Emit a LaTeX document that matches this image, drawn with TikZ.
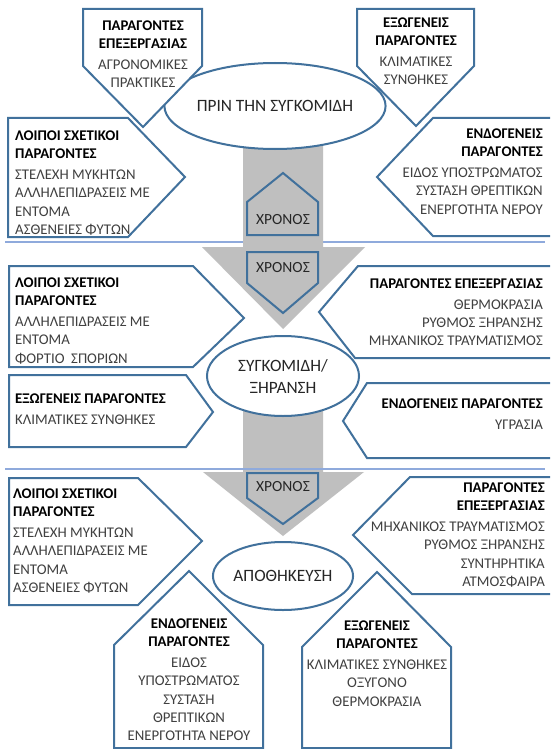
\documentclass[tikz,border=0pt]{standalone}
\usepackage{fontspec}
\setmainfont{Carlito}
\usetikzlibrary{shapes.geometric}
\definecolor{bdr}{HTML}{41719C}
\definecolor{sepline}{HTML}{8FAADC}
\definecolor{arrgray}{HTML}{BFBFBF}
\definecolor{itm}{HTML}{404040}
\newcommand{\hdg}[1]{{\color{black}\bfseries #1}}
\tikzset{
  box/.style={draw=bdr, line width=2pt, fill=white, line join=miter},
  timebox/.style={draw=bdr, line width=2pt, fill=arrgray, line join=miter},
  grayarrow/.style={fill=arrgray, draw=none},
  sepstyle/.style={draw=sepline, line width=1.6pt},
  txt/.style={inner sep=0pt, font=\fontsize{14.8}{18.3}\selectfont, text=itm},
  timetxt/.style={inner sep=0pt, font=\fontsize{15.5}{18}\selectfont, text=black!85},
  stage/.style={ellipse, draw=bdr, line width=2pt, fill=white, inner sep=0pt,
    font=\fontsize{17.3}{22}\selectfont, text=black!85, align=center}
}
\begin{document}
\begin{tikzpicture}[x=1pt,y=-1pt]
\useasboundingbox (0,0) rectangle (550,749);
\clip (0,0) rectangle (550,749);
\fill[white] (0,0) rectangle (550,749);

% separator line 1 (under gray)
\draw[sepstyle] (5,242) -- (545,242);

% gray arrows
\path[grayarrow] (243,130) -- (323,130) -- (323,247) -- (365,247) -- (283,329) -- (202,247) -- (243,247) -- cycle;
\path[grayarrow] (243,390) -- (323,390) -- (323,472) -- (364,472) -- (283,536) -- (203,472) -- (243,472) -- cycle;

% separator line 2 (over gray)
\draw[sepstyle] (5,469) -- (545,469);

% stage ellipses
\node[stage, minimum width=174pt, minimum height=86pt] (e1) at (275,106) {ΠΡΙΝ ΤΗΝ ΣΥΓΚΟΜΙΔΗ};
\node[stage, minimum width=152pt, minimum height=80pt] (e2) at (283,376) {ΣΥΓΚΟΜΙΔΗ/\\ΞΗΡΑΝΣΗ};
\node[stage, minimum width=134pt, minimum height=68pt] (e3) at (283,576) {ΑΠΟΘΗΚΕΥΣΗ};

% time pentagons
\draw[timebox] (247,235) -- (247,202) -- (283,173) -- (318,202) -- (318,235) -- cycle;
\node[timetxt] (t1) at (283,220) {ΧΡΟΝΟΣ};
\draw[timebox] (247,252) -- (318,252) -- (318,283) -- (283,313) -- (247,283) -- cycle;
\node[timetxt] (t2) at (283,268) {ΧΡΟΝΟΣ};
\draw[timebox] (247,473) -- (318,473) -- (318,498) -- (283,524) -- (247,498) -- cycle;
\node[timetxt] (t3) at (283,487) {ΧΡΟΝΟΣ};

% ---- top section ----
\draw[box] (83,9) -- (202,9) -- (202,66) -- (143,127) -- (83,66) -- cycle;
\node[txt, align=center, anchor=north] (tld) at (143,20.4)
  {\hdg{ΠΑΡΑΓΟΝΤΕΣ}\\\hdg{ΕΠΕΞΕΡΓΑΣΙΑΣ}\\[2.5pt]ΑΓΡΟΝΟΜΙΚΕΣ\\ΠΡΑΚΤΙΚΕΣ};

\draw[box] (357,9) -- (474,9) -- (474,66) -- (416,126) -- (357,66) -- cycle;
\node[txt, align=center, anchor=north] (trd) at (416,17.4)
  {\hdg{ΕΞΩΓΕΝΕΙΣ}\\\hdg{ΠΑΡΑΓΟΝΤΕΣ}\\[2.5pt]ΚΛΙΜΑΤΙΚΕΣ\\ΣΥΝΘΗΚΕΣ};

\draw[box] (8,118) -- (128,118) -- (185,177) -- (128,237) -- (8,237) -- cycle;
\node[txt, align=left, anchor=north west] (tlr) at (15,130.4)
  {\hdg{ΛΟΙΠΟΙ ΣΧΕΤΙΚΟΙ}\\\hdg{ΠΑΡΑΓΟΝΤΕΣ}\\[2.5pt]ΣΤΕΛΕΧΗ ΜΥΚΗΤΩΝ\\ΑΛΛΗΛΕΠΙΔΡΑΣΕΙΣ ΜΕ\\ΕΝΤΟΜΑ\\ΑΣΘΕΝΕΙΕΣ ΦΥΤΩΝ};

\draw[box] (556,118) -- (433,118) -- (377,177) -- (433,236) -- (556,236);
\node[txt, align=right, anchor=north east] (trl) at (543,128.4)
  {\hdg{ΕΝΔΟΓΕΝΕΙΣ}\\\hdg{ΠΑΡΑΓΟΝΤΕΣ}\\[2.5pt]ΕΙΔΟΣ ΥΠΟΣΤΡΩΜΑΤΟΣ\\ΣΥΣΤΑΣΗ ΘΡΕΠΤΙΚΩΝ\\ΕΝΕΡΓΟΤΗΤΑ ΝΕΡΟΥ};

% ---- middle section ----
\draw[box] (9,266) -- (193,266) -- (244,318) -- (193,367) -- (9,367) -- cycle;
\node[txt, align=left, anchor=north west] (ml1) at (15,277.4)
  {\hdg{ΛΟΙΠΟΙ ΣΧΕΤΙΚΟΙ}\\\hdg{ΠΑΡΑΓΟΝΤΕΣ}\\[2.5pt]ΑΛΛΗΛΕΠΙΔΡΑΣΕΙΣ ΜΕ\\ΕΝΤΟΜΑ\\ΦΟΡΤΙΟ\ \ ΣΠΟΡΙΩΝ};

\draw[box] (9,375) -- (186,375) -- (213,412) -- (186,447) -- (9,447) -- cycle;
\node[txt, align=left, anchor=north west] (ml2) at (15,393.4)
  {\hdg{ΕΞΩΓΕΝΕΙΣ ΠΑΡΑΓΟΝΤΕΣ}\\[2.5pt]ΚΛΙΜΑΤΙΚΕΣ ΣΥΝΘΗΚΕΣ};

\draw[box] (556,266) -- (358,266) -- (319,312) -- (355,358) -- (556,358);
\node[txt, align=right, anchor=north east] (mr1) at (543,278.4)
  {\hdg{ΠΑΡΑΓΟΝΤΕΣ ΕΠΕΞΕΡΓΑΣΙΑΣ}\\[2.5pt]ΘΕΡΜΟΚΡΑΣΙΑ\\ΡΥΘΜΟΣ ΞΗΡΑΝΣΗΣ\\ΜΗΧΑΝΙΚΟΣ ΤΡΑΥΜΑΤΙΣΜΟΣ};

\draw[box] (556,383) -- (367,383) -- (343,421) -- (367,458) -- (556,458);
\node[txt, align=right, anchor=north east] (mr2) at (543,398.4)
  {\hdg{ΕΝΔΟΓΕΝΕΙΣ ΠΑΡΑΓΟΝΤΕΣ}\\[2.5pt]ΥΓΡΑΣΙΑ};

% ---- bottom section ----
\draw[box] (9,478) -- (138,478) -- (202,541) -- (138,605) -- (9,605) -- cycle;
\node[txt, align=left, anchor=north west] (bl) at (13,488.4)
  {\hdg{ΛΟΙΠΟΙ ΣΧΕΤΙΚΟΙ}\\\hdg{ΠΑΡΑΓΟΝΤΕΣ}\\[2.5pt]ΣΤΕΛΕΧΗ ΜΥΚΗΤΩΝ\\ΑΛΛΗΛΕΠΙΔΡΑΣΕΙΣ ΜΕ\\ΕΝΤΟΜΑ\\ΑΣΘΕΝΕΙΕΣ ΦΥΤΩΝ};

\draw[box] (556,477) -- (410,477) -- (353,535) -- (412,594) -- (556,594);
\node[txt, align=right, anchor=north east] (br) at (545,482.4)
  {\hdg{ΠΑΡΑΓΟΝΤΕΣ}\\\hdg{ΕΠΕΞΕΡΓΑΣΙΑΣ}\\[2.5pt]ΜΗΧΑΝΙΚΟΣ ΤΡΑΥΜΑΤΙΣΜΟΣ\\ΡΥΘΜΟΣ ΞΗΡΑΝΣΗΣ\\ΣΥΝΤΗΡΗΤΙΚΑ\\ΑΤΜΟΣΦΑΙΡΑ};

\draw[box] (114,748) -- (114,645) -- (189,571) -- (263,645) -- (263,748) -- cycle;
\node[txt, align=center, anchor=north] (bhl) at (189,618.4)
  {\hdg{ΕΝΔΟΓΕΝΕΙΣ}\\\hdg{ΠΑΡΑΓΟΝΤΕΣ}\\[2.5pt]ΕΙΔΟΣ\\ΥΠΟΣΤΡΩΜΑΤΟΣ\\ΣΥΣΤΑΣΗ\\ΘΡΕΠΤΙΚΩΝ\\ΕΝΕΡΓΟΤΗΤΑ ΝΕΡΟΥ};

\draw[box] (302,748) -- (302,647) -- (377,572) -- (451,647) -- (451,748) -- cycle;
\node[txt, align=center, anchor=north] (bhr) at (377,620.4)
  {\hdg{ΕΞΩΓΕΝΕΙΣ}\\\hdg{ΠΑΡΑΓΟΝΤΕΣ}\\[2.5pt]ΚΛΙΜΑΤΙΚΕΣ ΣΥΝΘΗΚΕΣ\\ΟΞΥΓΟΝΟ\\ΘΕΡΜΟΚΡΑΣΙΑ};
\end{tikzpicture}
\end{document}
